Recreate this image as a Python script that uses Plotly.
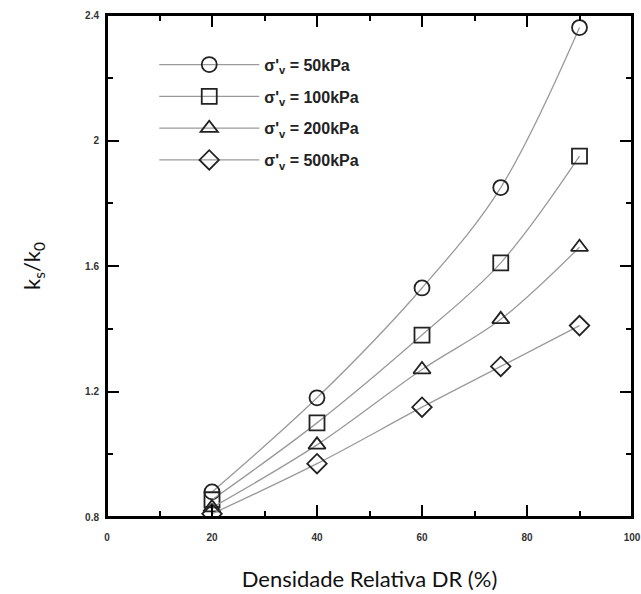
import plotly.graph_objects as go

dr = [20, 40, 60, 75, 90]
k_50 = [0.88, 1.18, 1.53, 1.85, 2.36]
k_100 = [0.855, 1.10, 1.38, 1.61, 1.95]
k_200 = [0.83, 1.03, 1.27, 1.43, 1.66]
k_500 = [0.81, 0.97, 1.15, 1.28, 1.41]

series = [
    ("σ'<sub>v</sub> = 50kPa", k_50, "circle-open"),
    ("σ'<sub>v</sub> = 100kPa", k_100, "square-open"),
    ("σ'<sub>v</sub> = 200kPa", k_200, "triangle-up-open"),
    ("σ'<sub>v</sub> = 500kPa", k_500, "diamond-open"),
]

fig = go.Figure()
for i, (name, ys, sym) in enumerate(series):
    fig.add_trace(go.Scatter(
        x=dr, y=ys, name=name, mode="lines+markers",
        legendgroup=f"g{i}",
        line=dict(color="#9a9a9a", width=1.3, shape="spline"),
        marker=dict(symbol=sym, size=15, color="#222222", line=dict(width=1.8, color="#222222")),
    ))

tickfont = dict(family="Arial", size=10, color="#333333", weight="bold")

fig.update_xaxes(range=[0, 100], dtick=20, automargin=False,
                 showline=True, linecolor="black", linewidth=2, mirror="ticks",
                 ticks="inside", ticklen=12, tickwidth=2, tickcolor="black",
                 showgrid=False, zeroline=False, layer="above traces",
                 minor=dict(dtick=10, ticks="inside", ticklen=6, tickwidth=1.5, tickcolor="black"),
                 tickfont=tickfont, ticklabelstandoff=10,
                 title=dict(text="Densidade Relativa DR (%)", font=dict(family="Lato", size=22, color="#111111"), standoff=30))
fig.update_yaxes(range=[0.8, 2.4], dtick=0.4, automargin=False,
                 showline=True, linecolor="black", linewidth=2, mirror="ticks",
                 ticks="inside", ticklen=12, tickwidth=2, tickcolor="black",
                 showgrid=False, zeroline=False, layer="above traces",
                 minor=dict(dtick=0.2, ticks="inside", ticklen=6, tickwidth=1.5, tickcolor="black"),
                 tickfont=tickfont, ticklabelstandoff=4,
                 title=dict(text="k<sub>s</sub>/k<sub>0</sub>", font=dict(family="Lato", size=22, color="#111111"), standoff=38))

fig.add_shape(type="rect", xref="paper", yref="paper", x0=0, y0=0, x1=1, y1=1,
              line=dict(color="black", width=2), layer="above")

fig.update_layout(
    width=641, height=594,
    margin=dict(l=107, r=9, t=15, b=77),
    plot_bgcolor="white", paper_bgcolor="white",
    legend=dict(x=0.09, y=0.935, xanchor="left", yanchor="top",
                bgcolor="rgba(0,0,0,0)", itemwidth=100, tracegroupgap=8,
                traceorder="grouped",
                font=dict(family="Arial", size=16, color="#222222", weight="bold")),
    showlegend=True,
)

fig.write_html("out.html")
